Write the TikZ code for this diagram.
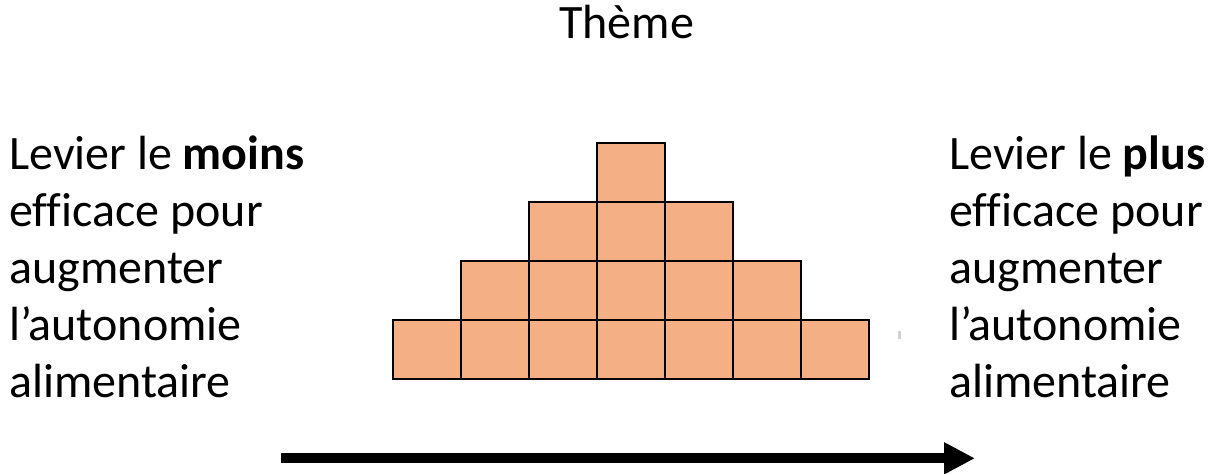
\documentclass[tikz,border=0pt]{standalone}
\usepackage{fontspec}
\setmainfont{Carlito}[Ligatures=NoCommon]
\usetikzlibrary{arrows.meta}
\definecolor{brick}{HTML}{F4B084}
\tikzset{
  cell/.style={draw=black, line width=2.2pt, fill=brick, minimum width=68pt, minimum height=58.85pt, inner sep=0pt, outer sep=0pt},
  side/.style={anchor=base west, inner sep=0pt, align=left, font=\fontsize{48}{56.8}\selectfont},
  title/.style={anchor=base, inner sep=0pt, font=\fontsize{48}{56.8}\selectfont},
  bigarrow/.style={line width=10pt, -{Triangle[length=31pt,width=30pt]}}
}
\begin{document}
\begin{tikzpicture}[x=1pt,y=-1pt]
\useasboundingbox (0,0) rectangle (1211,474);
\node[title] (theme) at (626.7,38.5) {Thème};
\node[side] (left) at (9,397) {Levier le \textbf{moins}\\efficace pour\\augmenter\\l’autonomie\\alimentaire};
\node[side] (right) at (949,397) {Levier le \textbf{plus}\\efficace pour\\augmenter\\l’autonomie\\alimentaire};
% bottom row
\foreach \i in {0,...,6} \node[cell] (a\i) at ({427.3+68*\i},349.3) {};
% row 2
\foreach \i in {1,...,5} \node[cell] (b\i) at ({427.3+68*\i},290.4) {};
% row 3
\foreach \i in {2,...,4} \node[cell] (c\i) at ({427.3+68*\i},231.6) {};
% top
\node[cell] (d3) at ({427.3+68*3},172.7) {};
\node[fill=gray!35, inner sep=0pt, minimum width=2.5pt, minimum height=8.5pt] (mark) at (899.7,335) {};
\coordinate (s) at (281,458.3);
\coordinate (e) at (975,458.3);
\draw[bigarrow] (s) -- (e);
\end{tikzpicture}
\end{document}
